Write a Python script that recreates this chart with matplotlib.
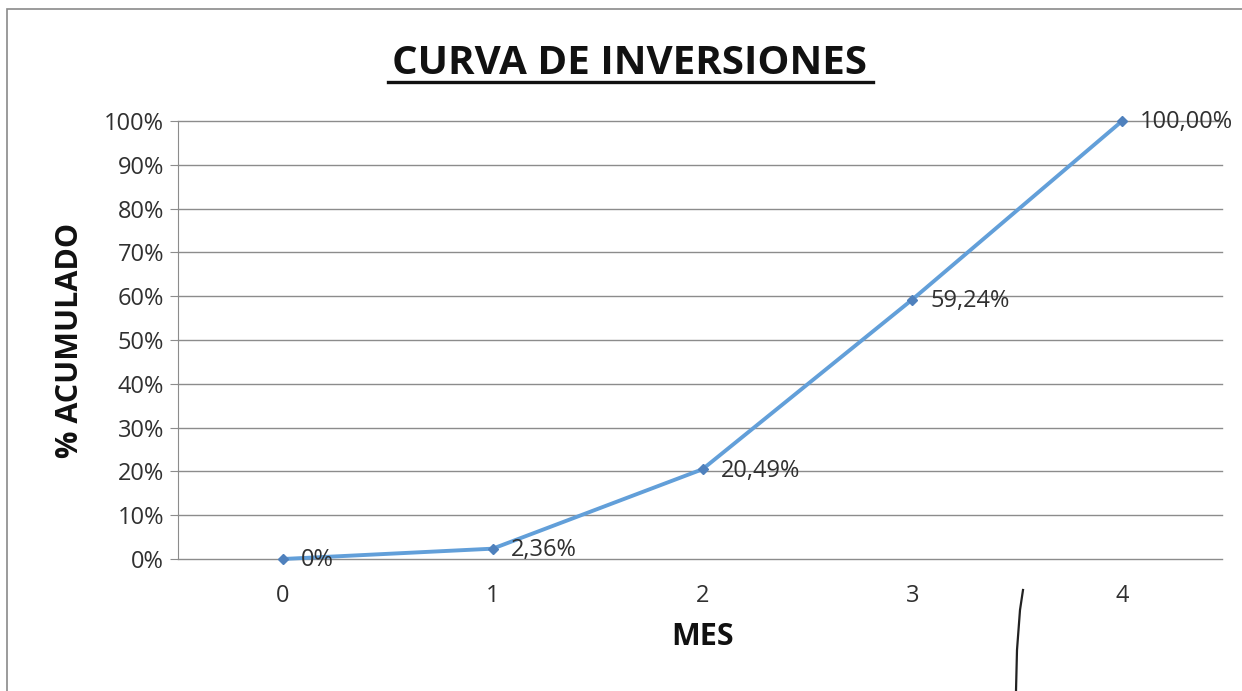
import matplotlib
matplotlib.use("Agg")
import matplotlib.pyplot as plt
from matplotlib.lines import Line2D
from matplotlib.patches import Rectangle

meses = [0, 1, 2, 3, 4]
acumulado = [0.0, 2.36, 20.49, 59.24, 100.0]
etiquetas = ["0%", "2,36%", "20,49%", "59,24%", "100,00%"]
yticks = list(range(0, 101, 10))

plt.rcParams["font.family"] = ["Open Sans", "DejaVu Sans"]

W, H = 1242, 691
fig = plt.figure(figsize=(W / 100, H / 100), dpi=100)
fig.patch.set_facecolor("white")

# outer frame of the chart area
fig.add_artist(Rectangle((7 / W, -0.01), 1.0, 1 - 9 / H + 0.01, transform=fig.transFigure,
                         fill=False, edgecolor="#8a8a8a", linewidth=1.2))

ax = fig.add_axes([178 / W, 1 - 559 / H, (1227 - 178) / W, (559 - 121) / H])
ax.set_xlim(-0.5, 4.5)
ax.set_ylim(0, 100)

for y in yticks:
    ax.axhline(y, xmax=(1222 - 178) / (1227 - 178), color="#8c8c8c", linewidth=1.0,
               zorder=1, clip_on=False)

ax.plot(meses, acumulado, color="#629fd9", linewidth=2.8, marker="D", markersize=5,
        markerfacecolor="#4f81bd", markeredgecolor="#4f81bd", zorder=3, clip_on=False)

for x, y, t in zip(meses, acumulado, etiquetas):
    ax.annotate(t, (x, y), xytext=(13, -1), textcoords="offset points",
                ha="left", va="center", fontsize=17, color="#303030", zorder=4)

ax.set_yticks(yticks)
ax.set_yticklabels([f"{v}%" for v in yticks], fontsize=17, color="#303030")
ax.set_xticks(meses)
ax.set_xticklabels([str(m) for m in meses], fontsize=17, color="#303030")
ax.tick_params(axis="y", length=6, color="#8c8c8c", pad=4)
ax.tick_params(axis="x", length=0, pad=18)

for s in ["top", "right", "bottom"]:
    ax.spines[s].set_visible(False)
ax.spines["left"].set_color("#8c8c8c")

ax.set_xlabel("MES", fontsize=22, fontweight="bold", labelpad=10, color="#111111")
ax.set_ylabel("% ACUMULADO", fontsize=22, fontweight="bold", labelpad=14, color="#111111")

fig.text(630 / W, 1 - 63 / H, "CURVA DE INVERSIONES", ha="center", va="center",
         fontsize=29, fontweight="bold", color="#111111")
fig.add_artist(Line2D([388 / W, 873 / W], [1 - 82 / H, 1 - 82 / H], transform=fig.transFigure,
                      color="#111111", linewidth=2.4))

# hand-drawn pen stroke near the bottom
fig.add_artist(Line2D([1023 / W, 1020 / W, 1017 / W, 1016 / W], [1 - 590 / H, 1 - 610 / H, 1 - 650 / H, 1 - 691 / H],
                      transform=fig.transFigure, color="#222222", linewidth=1.6))

fig.savefig("out.png", dpi=100)
